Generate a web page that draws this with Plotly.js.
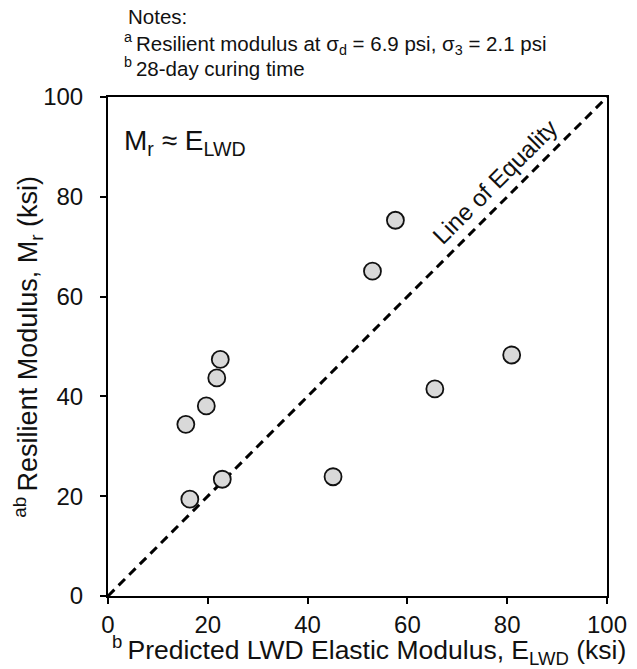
<!DOCTYPE html>
<html>
<head>
<meta charset="utf-8">
<script src="https://cdn.plot.ly/plotly-3.0.1.min.js"></script>
<style>html,body{margin:0;padding:0;background:#fff;}</style>
</head>
<body>
<div id="chart" style="width:637px;height:669px;"></div>
<script>
// Data
const elwd = [15.6, 19.7, 21.8, 22.5, 16.4, 22.9, 45.1, 53.0, 57.6, 65.5, 80.9];
const mr   = [34.4, 38.1, 43.7, 47.4, 19.4, 23.4, 23.9, 65.1, 75.3, 41.5, 48.3];
const equalityX = [0, 100];
const equalityY = [0, 100];
const tickVals = [0, 20, 40, 60, 80, 100];

const FONT = '"Liberation Sans", Arial, Helvetica, sans-serif';

const traces = [
  {
    x: equalityX, y: equalityY, mode: 'lines', type: 'scatter',
    line: {color: '#000', width: 3, dash: '9px,6px'},
    hoverinfo: 'skip', showlegend: false
  },
  {
    x: elwd, y: mr, mode: 'markers', type: 'scatter',
    marker: {size: 17, color: '#d9d9d9', line: {color: '#111', width: 1.8}},
    showlegend: false
  }
];

const axisCommon = {
  range: [0, 100], tickvals: tickVals, ticks: 'outside', ticklen: 6, tickwidth: 2,
  tickcolor: '#000', showline: true, linecolor: '#000', linewidth: 2, mirror: true,
  showgrid: false, zeroline: false, tickfont: {family: FONT, size: 24, color: '#111'}
};

const layout = {
  width: 637, height: 669,
  margin: {l: 108, r: 30, t: 97, b: 73},
  paper_bgcolor: '#fff', plot_bgcolor: '#fff',
  font: {family: FONT, color: '#111'},
  xaxis: Object.assign({}, axisCommon, {ticklabelstandoff: 0}),
  yaxis: Object.assign({}, axisCommon, {ticklabelstandoff: 12}),
  annotations: [
    {xref: 'paper', yref: 'paper', x: 0.036, y: 1.162, xanchor: 'left', yanchor: 'middle',
     text: 'Notes:', showarrow: false, font: {size: 20.5}},
    {xref: 'paper', yref: 'paper', x: 0.028, y: 1.108, xanchor: 'left', yanchor: 'middle',
     text: '<sup>a </sup>Resilient modulus at σ<sub>d</sub> = 6.9 psi, σ<sub>3</sub> = 2.1 psi', showarrow: false, font: {size: 20.5}},
    {xref: 'paper', yref: 'paper', x: 0.028, y: 1.061, xanchor: 'left', yanchor: 'middle',
     text: '<sup>b </sup>28-day curing time', showarrow: false, font: {size: 20.5}},
    {xref: 'paper', yref: 'paper', x: 0.028, y: 0.908, xanchor: 'left', yanchor: 'middle',
     text: 'M<sub>r</sub> ≈ E<sub>LWD</sub>', showarrow: false, font: {size: 28}},
    {xref: 'x', yref: 'y', x: 77.6, y: 83, xanchor: 'center', yanchor: 'middle', textangle: -45,
     text: 'Line of Equality', showarrow: false, font: {size: 24}},
    {xref: 'paper', yref: 'paper', x: -0.162, y: 0.5, xanchor: 'center', yanchor: 'middle', textangle: -90,
     text: '<sup>ab </sup>Resilient Modulus, M<sub>r</sub> (ksi)', showarrow: false, font: {size: 27}},
    {xref: 'paper', yref: 'paper', x: 0.524, y: -0.108, xanchor: 'center', yanchor: 'middle',
     text: '<sup>b </sup>Predicted LWD Elastic Modulus, E<sub>LWD</sub> (ksi)', showarrow: false, font: {size: 26.5}}
  ]
};

Plotly.newPlot('chart', traces, layout, {displayModeBar: false, staticPlot: true});
</script>
</body>
</html>
